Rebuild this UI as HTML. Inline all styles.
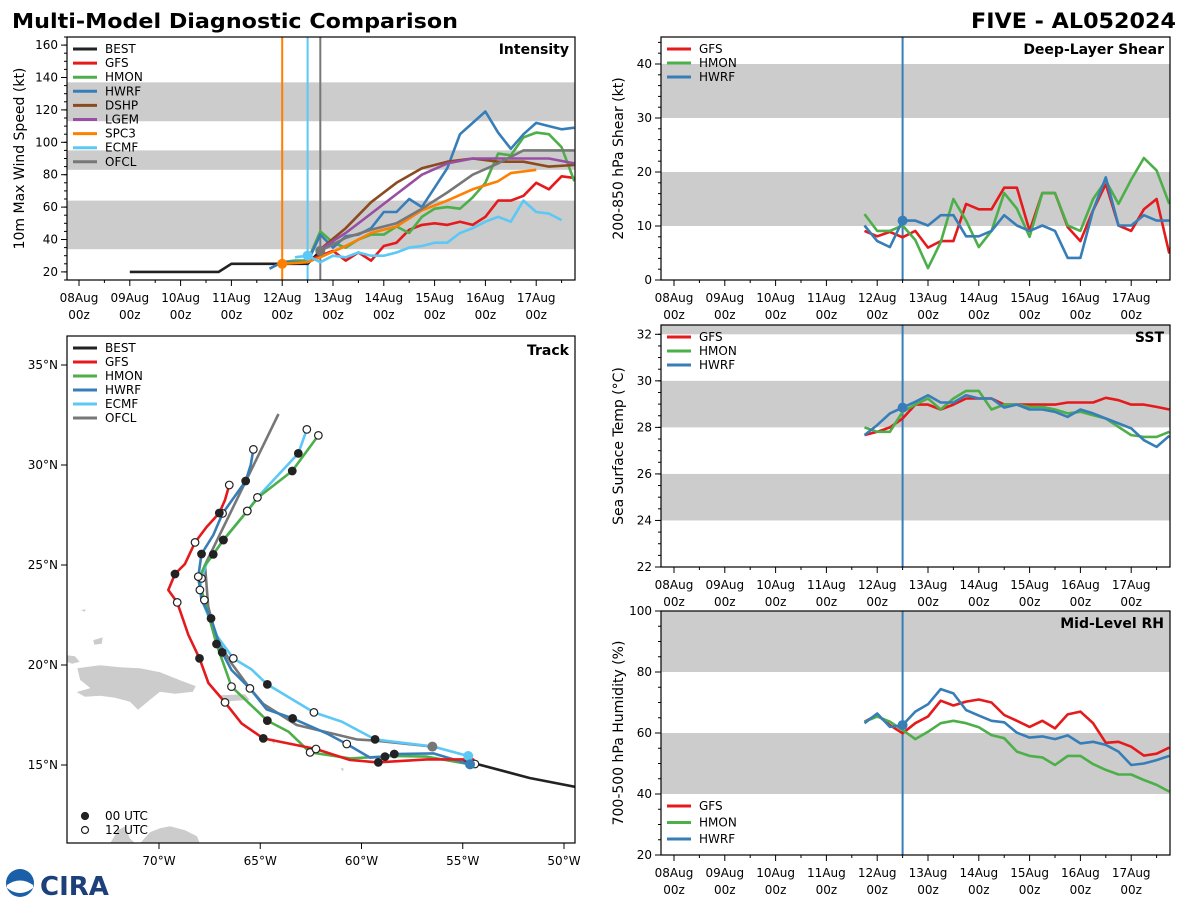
<!DOCTYPE html>
<html><head><meta charset="utf-8"><style>
html,body{margin:0;padding:0;background:#fff;}
svg{display:block;font-family:"DejaVu Sans","Liberation Sans",sans-serif;}
</style></head><body>
<svg id="chart" width="1200" height="900" viewBox="0 0 1200 900" xmlns="http://www.w3.org/2000/svg">
<text x="12" y="28" font-size="20" font-weight="bold" textLength="446" lengthAdjust="spacingAndGlyphs">Multi-Model Diagnostic Comparison</text>
<text x="971" y="28" font-size="21" font-weight="bold" textLength="205" lengthAdjust="spacingAndGlyphs">FIVE - AL052024</text>
<g>
<circle cx="20" cy="883" r="14" fill="#1b5fa8"/>
<path d="M7 885 Q20 876 33 885 L33 888 Q20 898 7 888Z" fill="#fff"/>
<text x="40" y="895" font-size="26" font-weight="bold" fill="#1d3f7a">CIRA</text>
</g>
</svg>
<script>
// ---------- Intensity data (hours from 08Aug 00z) ----------
const intSeriesNames = ["BEST","GFS","HMON","HWRF","DSHP","LGEM","SPC3","ECMF","OFCL"];
const intYTicks = [20,40,60,80,100,120,140,160];
const bestHours = [24,30,36,42,48,54,60,66,72,78,84,90,96,102,108,114];
const bestKt    = [20,20,20,20,20,20,20,20,25,25,25,25,25,25,25,33];
const gfsHours = [108,114,120,126,132,138,144,150,156,162,168,174,180,186,192,198,204,210,216,222,228,234];
const gfsKt    = [27,30,33,27,32,27,36,38,46,49,50,49,51,49,54,64,64,67,75,71,79,78];
const hmonHours = [96,102,108,114,120,126,132,138,144,150,156,162,168,174,180,186,192,198,204,210,216,222,228,234];
const hmonKt    = [26,27,27,45,38,35,40,43,43,48,44,54,59,60,59,66,75,93,92,103,106,105,97,76];
const hwrfHours = [90,96,102,108,114,120,126,132,138,144,150,156,162,168,174,180,186,192,198,204,210,216,222,228,234];
const hwrfKt    = [22,26,26,26,43,35,42,43,47,57,57,65,60,72,84,105,112,119,106,96,105,112,110,108,109];
const dshpHours = [114,126,138,150,162,174,186,198,210,222,234];
const dshpKt    = [34,47,63,75,84,88,90,88,88,85,86];
const lgemHours = [114,126,138,150,162,174,186,198,210,222,234];
const lgemKt    = [34,44,56,68,80,87,90,90,90,90,87];
const spc3Hours = [96,108,114,126,138,150,162,174,186,198,204,216];
const spc3Kt    = [25,26,29,36,44,48,58,64,71,76,81,83];
const ecmfHours = [102,108,114,120,126,132,138,144,150,156,162,168,174,180,186,192,198,204,210,216,222,228];
const ecmfKt    = [29,30,26,30,29,32,30,30,32,35,36,38,38,44,47,51,54,51,64,57,56,52];
const ofclHours = [114,126,138,150,162,174,186,198,210,234];
const ofclKt    = [33,41,46,50,59,69,80,87,95,95];
const initHours = [96,108,114]; // SPC3, ECMF, OFCL init lines

// ---------- Right-panel data ----------
const rightHours = [90,96,102,108,114,120,126,132,138,144,150,156,162,168,174,180,186,192,198,204,210,216,222,228,234];
const shearGFS  = [9.1,8.1,8.9,7.9,9.1,6.0,7.2,7.2,14.1,13.1,13.1,17.1,17.1,9.1,16.1,16.1,9.8,7.2,12.9,17.8,10.1,9.1,13.1,15,4.9];
const shearHMON = [12.2,9.1,9.1,10.1,7.4,2.2,7.0,15,11,6.1,9.1,16.1,13.2,8.0,16.1,16.1,10.1,9.1,15,18.4,14.1,18.6,22.6,20.3,14.1];
const shearHWRF = [10.1,7.2,6.1,11,11,10.1,12,12,8.1,8.1,9.1,12,10.1,9.1,10.1,9.1,4.1,4.1,12.9,19,10.1,10.1,12,11,11];
const sstGFS  = [27.67,27.81,28.0,28.38,28.98,28.98,28.77,28.98,29.24,29.24,29.24,28.98,28.98,28.98,28.98,28.98,29.07,29.07,29.07,29.27,29.17,28.98,28.98,28.88,28.77];
const sstHMON = [28.0,27.81,27.81,28.67,28.98,29.24,28.77,29.24,29.57,29.57,28.77,28.98,28.98,28.88,28.88,28.77,28.6,28.67,28.52,28.38,28.02,27.67,27.59,27.59,27.81];
const sstHWRF = [27.67,28.1,28.6,28.85,29.1,29.38,29.07,29.07,29.38,29.24,29.24,28.85,28.98,28.77,28.77,28.67,28.45,28.77,28.6,28.38,28.17,27.96,27.45,27.16,27.64];
const rhGFS  = [63.7,65.9,62.6,59.9,63.2,65.4,70.6,69,70.3,71,70,65.9,64,62,64,61.5,66.1,67,63.2,56.8,57.1,55.5,52.6,53.2,55.2];
const rhHMON = [63.7,65.4,63.7,61,58,60.4,63.2,64,63.2,61.9,59.3,58.3,53.9,52.5,52,49.5,52.5,52.5,49.8,47.9,46.4,46.4,44.6,43,40.8];
const rhHWRF = [63.2,66.4,62,62.6,67,69.4,74.4,73,67.5,65.7,64,63.5,60.1,58.5,58.9,58,59.2,56.6,57.1,56.1,53.9,49.5,50,51.1,52.5];
const shearTicks = [0,10,20,30,40];
const sstTicks = [22,24,26,28,30,32];
const rhTicks = [20,40,60,80,100];
const dayLabels = ["08Aug","09Aug","10Aug","11Aug","12Aug","13Aug","14Aug","15Aug","16Aug","17Aug"];

// ---------- Track data (lon °W, lat °N, marker: 0 none, 1 = 00 UTC, 2 = 12 UTC) ----------
const bestLon = [49.4,51.7,54.3,55.0];
const bestLat = [13.9,14.35,15.05,15.2];
const gfsLon = [54.4,54.48,56.78,59.17,60.57,62.25,64.85,65.92,66.74,67.56,68.0,68.55,69.1,69.54,69.21,68.72,68.22,67.65,67.02,66.74,66.53];
const gfsLat = [15.05,15.28,15.28,15.13,15.25,15.8,16.33,17.08,18.13,19.1,20.33,21.5,23.13,23.75,24.55,25.05,26.13,26.9,27.6,28.25,29.0];
const gfsMk  = [2,0,0,1,0,2,1,0,2,0,1,0,2,0,1,0,2,0,1,0,2];
const hmonLon = [54.64,56.78,58.43,60.57,62.54,63.61,64.65,66.42,67.16,67.76,68.06,67.73,67.32,66.82,65.64,65.1,63.42,62.13];
const hmonLat = [15.03,15.42,15.45,15.33,15.63,16.67,17.22,18.92,21.05,23.25,24.25,25.0,25.53,26.25,27.7,28.38,29.7,31.48];
const hmonMk  = [0,0,0,0,2,0,1,2,1,2,0,0,1,1,2,0,1,2];
const hwrfLon = [54.64,56.45,58.38,58.84,59.58,60.73,61.72,63.4,64.68,65.51,66.42,66.88,67.43,67.9,68.06,67.9,67.32,66.86,65.72,65.47,65.34];
const hwrfLat = [15.03,15.58,15.55,15.42,15.37,16.05,16.58,17.33,17.78,18.83,19.75,20.63,22.33,23.25,24.42,25.55,26.5,27.58,29.2,30.0,30.78];
const hwrfMk  = [0,0,1,1,0,2,0,1,0,2,0,1,1,0,2,1,0,2,1,0,2];
const ecmfLon = [54.73,56.45,59.33,60.98,62.35,64.65,65.43,66.33,67.23,67.81,67.98,67.9,67.65,66.82,65.64,65.14,63.12,62.7];
const ecmfLat = [15.45,15.92,16.28,17.17,17.63,19.03,19.78,20.33,21.58,23.08,23.75,24.33,25.08,26.25,27.7,28.38,30.58,31.78];
const ecmfMk  = [0,0,1,0,2,1,0,2,0,0,2,2,0,1,2,2,1,2];
const ofclLon = [56.5,59.33,60.24,63.2,64.85,65.51,66.42,67.16,67.57,67.73,64.1];
const ofclLat = [15.92,16.22,16.28,17.0,18.05,18.83,20.08,21.33,22.92,25.0,32.55];
const latTicks = [15,20,25,30,35];
const lonTicks = [70,65,60,55,50];

const NS = "http://www.w3.org/2000/svg";
const svg = document.getElementById("chart");
function mk(tag, attrs, parent){ const e=document.createElementNS(NS,tag); for(const k in attrs) e.setAttribute(k,attrs[k]); (parent||svg).appendChild(e); return e; }
const COL = {BEST:"#222222",GFS:"#e41a1c",HMON:"#4daf4a",HWRF:"#377eb8",DSHP:"#8b4a1f",LGEM:"#984ea3",SPC3:"#ff7f00",ECMF:"#5bc8f5",OFCL:"#777777"};

function timePanel(cfg){
  const g = mk("g",{});
  
  
  const X = h => cfg.x0t + h*50.8/24;
  const Y = v => cfg.y1 - (v-cfg.ymin)/(cfg.ymax-cfg.ymin)*(cfg.y1-cfg.y0);
  const clip = "clip-"+cfg.name;
  const cp = mk("clipPath",{id:clip},g); mk("rect",{x:cfg.x0,y:cfg.y0,width:cfg.x1-cfg.x0,height:cfg.y1-cfg.y0},cp);
  cfg.bands.forEach(b=>{
    const r = mk("rect",{x:cfg.x0,y:Y(Math.min(b[1],cfg.ymax)),width:cfg.x1-cfg.x0,height:Y(b[0])-Y(Math.min(b[1],cfg.ymax)),fill:"#cccccc"},g);
    
    
  });
  for(let h=-0; h<=426; h+=12){
    const x=X(h); if(x<cfg.x0||x>cfg.x1) continue;
    const major = h%24===0;
    mk("line",{x1:x,x2:x,y1:cfg.y1,y2:cfg.y1+(major?6:3),stroke:"#000","stroke-width":1},g);
  }
  dayLabels.forEach((d,i)=>{
    const x=X(i*24);
    const t=mk("text",{x:x,y:cfg.y1+22,"font-size":12,"text-anchor":"middle"},g); t.textContent=d;
    
    
    const t2=mk("text",{x:x,y:cfg.y1+39,"font-size":12,"text-anchor":"middle"},g); t2.textContent="00z";
    
    
  });
  for(let v=Math.ceil(cfg.ymin/cfg.minor)*cfg.minor; v<=cfg.ymax; v+=cfg.minor){
    mk("line",{x1:cfg.x0-3,x2:cfg.x0,y1:Y(v),y2:Y(v),stroke:"#000","stroke-width":1},g);
  }
  cfg.ticks.forEach(v=>{
    mk("line",{x1:cfg.x0-6,x2:cfg.x0,y1:Y(v),y2:Y(v),stroke:"#000","stroke-width":1},g);
    const t=mk("text",{x:cfg.x0-9,y:Y(v)+4,"font-size":12,"text-anchor":"end"},g); t.textContent=v;
    
    
  });
  const yl = mk("text",{x:0,y:0,"font-size":14,"text-anchor":"middle",transform:`translate(${cfg.ylx},${(cfg.y0+cfg.y1)/2}) rotate(-90)`},g);
  yl.textContent = cfg.ylabel;
  
  
  const lg = mk("g",{"clip-path":`url(#${clip})`},g);
  (cfg.vlines||[]).forEach(v=>{
    const l=mk("line",{x1:X(v.h),x2:X(v.h),y1:cfg.y0,y2:cfg.y1,stroke:v.c,"stroke-width":2},lg);
    
    
  });
  cfg.series.forEach(s=>{
    const pts = s.h.map((h,i)=>X(h).toFixed(1)+","+Y(s.v[i]).toFixed(1)).join(" ");
    const p = mk("polyline",{points:pts,fill:"none",stroke:COL[s.n],"stroke-width":2.6,"stroke-linejoin":"round"},lg);
    
    
  });
  (cfg.dots||[]).forEach(d=>{
    const i = d.s.h.indexOf(d.h);
    const c = mk("circle",{cx:X(d.h),cy:Y(d.s.v[i]),r:5,fill:d.c},lg);
    
    
  });
  mk("rect",{x:cfg.x0,y:cfg.y0,width:cfg.x1-cfg.x0,height:cfg.y1-cfg.y0,fill:"none",stroke:"#000","stroke-width":1.2},g);
  const ti = mk("text",{x:cfg.x1-6,y:cfg.ty||cfg.y0+17,"font-size":14,"font-weight":"bold","text-anchor":"end"},g);
  ti.textContent = cfg.title;
  
  
  cfg.series.forEach((s,i)=>{
    const ly = cfg.ly + i*cfg.lsp;
    const l=mk("line",{x1:cfg.x0+6,x2:cfg.x0+30,y1:ly,y2:ly,stroke:COL[s.n],"stroke-width":3},g);
    
    
    const t=mk("text",{x:cfg.x0+38,y:ly+4,"font-size":12},g); t.textContent=s.n;
    
    
  });
}

const sBEST={n:"BEST",h:bestHours,v:bestKt}, sSPC3={n:"SPC3",h:spc3Hours,v:spc3Kt}, sECMF={n:"ECMF",h:ecmfHours,v:ecmfKt}, sOFCL={n:"OFCL",h:ofclHours,v:ofclKt};
timePanel({name:"intensity-panel",x0:67,x1:575,y0:37,y1:280,x0t:79,ymin:15,ymax:165,minor:5,ticks:intYTicks,
  ylabel:"10m Max Wind Speed (kt)",ylx:24,title:"Intensity",ly:49,lsp:14.1,
  bands:[[34,64],[83,95],[113,137]],
  vlines:[{h:initHours[0],c:COL.SPC3},{h:initHours[1],c:COL.ECMF},{h:initHours[2],c:COL.OFCL}],
  series:[sBEST,{n:"GFS",h:gfsHours,v:gfsKt},{n:"HMON",h:hmonHours,v:hmonKt},{n:"HWRF",h:hwrfHours,v:hwrfKt},{n:"DSHP",h:dshpHours,v:dshpKt},{n:"LGEM",h:lgemHours,v:lgemKt},sSPC3,sECMF,sOFCL],
  dots:[{s:sSPC3,h:96,c:COL.SPC3},{s:sECMF,h:108,c:COL.ECMF},{s:sOFCL,h:114,c:COL.OFCL}]});
const sh={n:"HWRF",h:rightHours,v:shearHWRF};
timePanel({name:"shear-panel",x0:661,x1:1170,y0:37,y1:280,x0t:674,ymin:0,ymax:45,minor:2,ticks:shearTicks,
  ylabel:"200-850 hPa Shear (kt)",ylx:623,title:"Deep-Layer Shear",ly:49,lsp:14,bands:[[10,20],[30,40]],
  vlines:[{h:108,c:COL.HWRF}],
  series:[{n:"GFS",h:rightHours,v:shearGFS},{n:"HMON",h:rightHours,v:shearHMON},sh],dots:[{s:sh,h:108,c:COL.HWRF}]});
const ss={n:"HWRF",h:rightHours,v:sstHWRF};
timePanel({name:"sst-panel",x0:661,x1:1170,y0:325,y1:567,x0t:674,ymin:22,ymax:32.4,minor:0.5,ticks:sstTicks,
  ylabel:"Sea Surface Temp (°C)",ylx:623,title:"SST",ly:337,lsp:14,bands:[[24,26],[28,30],[32,34]],
  vlines:[{h:108,c:COL.HWRF}],
  series:[{n:"GFS",h:rightHours,v:sstGFS},{n:"HMON",h:rightHours,v:sstHMON},ss],dots:[{s:ss,h:108,c:COL.HWRF}]});
const sr={n:"HWRF",h:rightHours,v:rhHWRF};
timePanel({name:"rh-panel",x0:661,x1:1170,y0:611,y1:855,x0t:674,ymin:20,ymax:100,minor:5,ticks:rhTicks,
  ylabel:"700-500 hPa Humidity (%)",ylx:623,title:"Mid-Level RH",ly:806,lsp:16.5,bands:[[40,60],[80,100]],
  vlines:[{h:108,c:COL.HWRF}],
  series:[{n:"GFS",h:rightHours,v:rhGFS},{n:"HMON",h:rightHours,v:rhHMON},sr],dots:[{s:sr,h:108,c:COL.HWRF}]});

// ---------- Track panel ----------
(function(){
  const x0=67,x1=575,y0=336,y1=843;
  const X = lon => 564 - (lon-50)*20.25;
  const Y = lat => 765 - (lat-15)*20;
  const g = mk("g",{});
  
  
  const cp = mk("clipPath",{id:"clip-track"},g); mk("rect",{x:x0,y:y0,width:x1-x0,height:y1-y0},cp);
  const lg = mk("g",{"clip-path":"url(#clip-track)"},g);
  const land = [
    "M77,668 L100,665 L120,667 L140,668 L160,672 L180,680 L196,686 L193,692 L175,694 L160,692 L150,700 L138,710 L130,702 L115,698 L100,696 L85,697 L76,692 L90,688 L80,680Z",
    "M67,655 L75,656 L80,662 L72,664 L67,662Z",
    "M220,695 L245,694 L250,700 L222,702Z",
    "M93,640 L103,637 L102,644 L94,645Z",
    "M80,610 L86,609 L85,612Z",
    "M270,740 L274,738 L275,745Z",
    "M340,768 L344,768 L343,772Z",
    "M140,843 L150,832 L160,828 L170,826 L185,830 L197,836 L200,843Z",
    "M110,843 L118,830 L125,826 L130,838 L135,843Z"
  ];
  land.forEach(d=>{
    const p=mk("path",{d:d,fill:"#cccccc",stroke:"#fff","stroke-width":0.5},lg);
    
    
  });
  const tracks=[
    {n:"BEST",lo:bestLon,la:bestLat,m:null},
    {n:"OFCL",lo:ofclLon,la:ofclLat,m:null},
    {n:"ECMF",lo:ecmfLon,la:ecmfLat,m:ecmfMk},
    {n:"HMON",lo:hmonLon,la:hmonLat,m:hmonMk},
    {n:"HWRF",lo:hwrfLon,la:hwrfLat,m:hwrfMk},
    {n:"GFS",lo:gfsLon,la:gfsLat,m:gfsMk}
  ];
  tracks.forEach(t=>{
    const pts=t.lo.map((lo,i)=>X(lo).toFixed(1)+","+Y(t.la[i]).toFixed(1)).join(" ");
    const p=mk("polyline",{points:pts,fill:"none",stroke:COL[t.n],"stroke-width":2.6,"stroke-linejoin":"round"},lg);
    
    
  });
  tracks.forEach(t=>{
    if(!t.m) return;
    t.m.forEach((m,i)=>{
      if(!m) return;
      const c=mk("circle",{cx:X(t.lo[i]),cy:Y(t.la[i]),r:3.8,fill:m===1?"#222":"#fff",stroke:"#222","stroke-width":1.2},lg);
      
      
    });
  });
  [["OFCL",ofclLon,ofclLat],["ECMF",ecmfLon,ecmfLat],["HWRF",hwrfLon,hwrfLat]].forEach(a=>{
    const c=mk("circle",{cx:X(a[1][0]),cy:Y(a[2][0]),r:5,fill:COL[a[0]]},lg);
    
    
  });
  mk("rect",{x:x0,y:y0,width:x1-x0,height:y1-y0,fill:"none",stroke:"#000","stroke-width":1.2},g);
  latTicks.forEach(v=>{
    mk("line",{x1:x0-6,x2:x0,y1:Y(v),y2:Y(v),stroke:"#000"},g);
    const t=mk("text",{x:x0-9,y:Y(v)+4,"font-size":12,"text-anchor":"end"},g); t.textContent=v+"°N";
    
    
  });
  lonTicks.forEach(v=>{
    mk("line",{x1:X(v),x2:X(v),y1:y1,y2:y1+6,stroke:"#000"},g);
    const t=mk("text",{x:X(v),y:y1+22,"font-size":12,"text-anchor":"middle"},g); t.textContent=v+"°W";
    
    
  });
  const ti=mk("text",{x:x1-6,y:y0+19,"font-size":14,"font-weight":"bold","text-anchor":"end"},g); ti.textContent="Track";
  
  
  ["BEST","GFS","HMON","HWRF","ECMF","OFCL"].forEach((n,i)=>{
    const ly=348+i*14;
    const l=mk("line",{x1:x0+6,x2:x0+30,y1:ly,y2:ly,stroke:COL[n],"stroke-width":3},g);
    
    
    const t=mk("text",{x:x0+38,y:ly+4,"font-size":12},g); t.textContent=n;
    
    
  });
  [["00 UTC","#222",816],["12 UTC","#fff",830]].forEach(a=>{
    const c=mk("circle",{cx:85,cy:a[2],r:3.5,fill:a[1],stroke:"#222","stroke-width":1.2},g);
    
    
    const t=mk("text",{x:105,y:a[2]+4,"font-size":12},g); t.textContent=a[0];
    
    
  });
})();
</script>
</body></html>
